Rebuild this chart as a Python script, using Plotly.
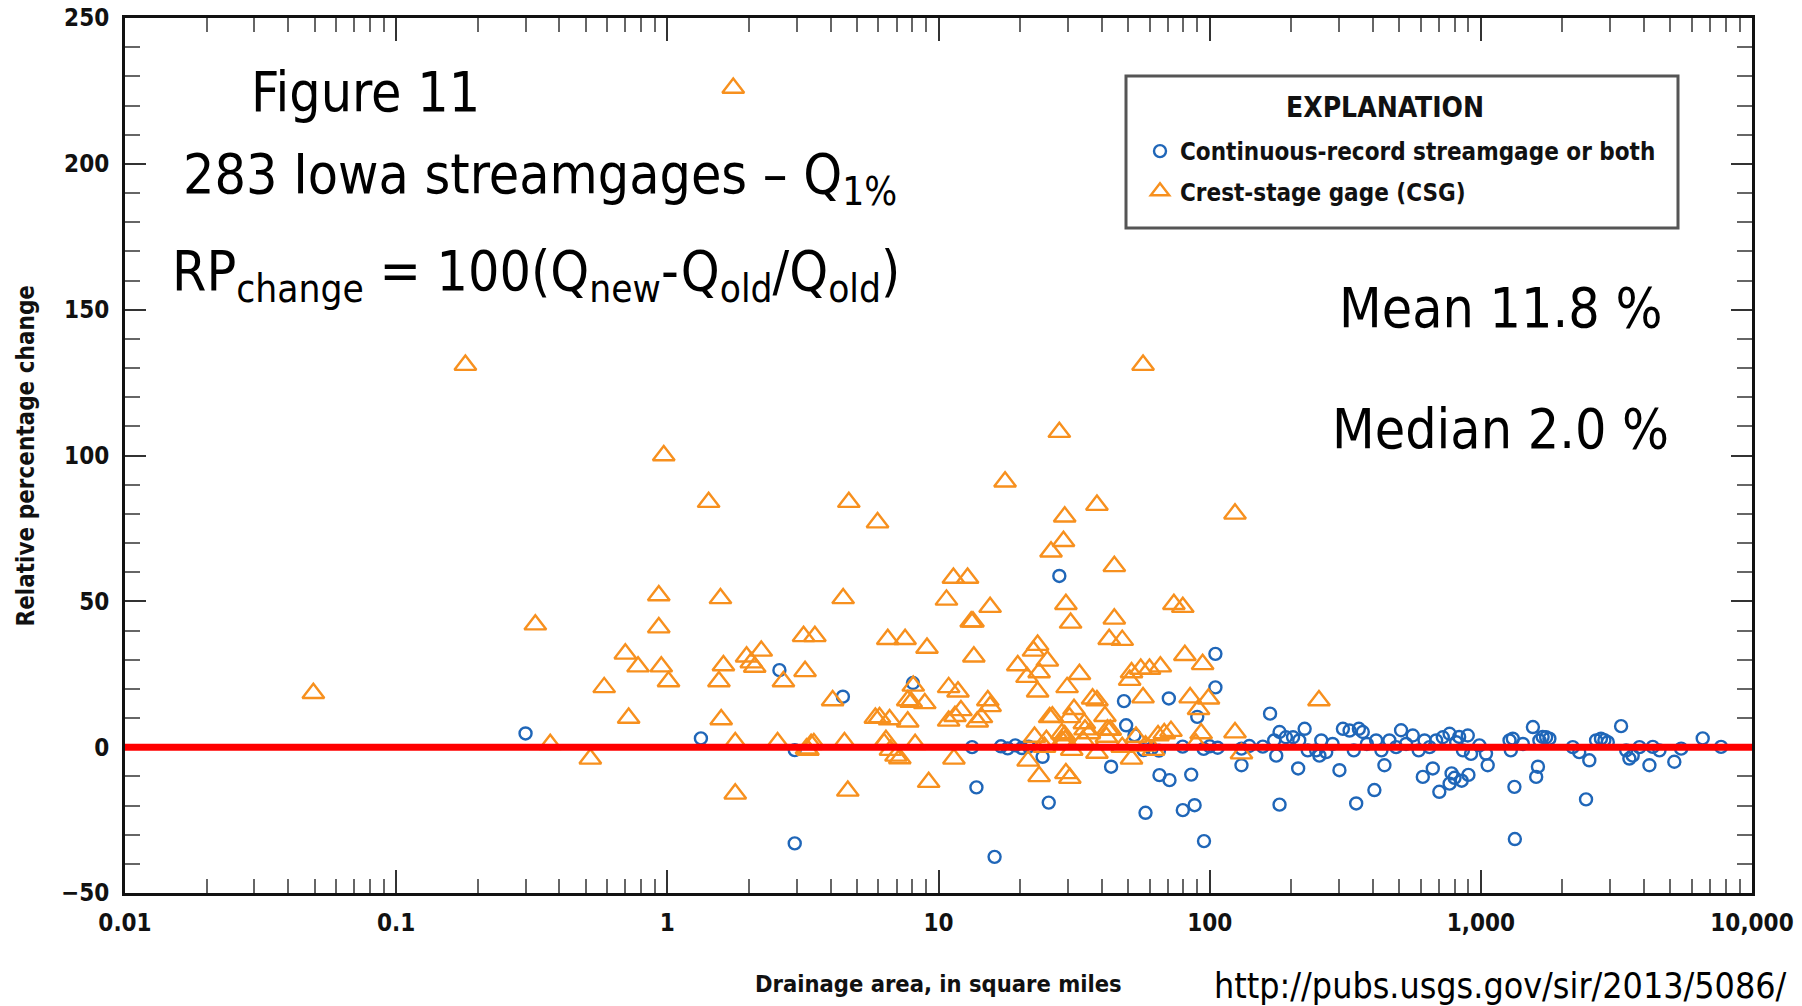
import plotly.graph_objects as go

# ---------------- data ----------------
csg_area = [0.0495, 0.18, 0.326, 0.37, 0.52, 0.585, 0.70, 0.72, 0.78, 0.93, 0.93, 0.95, 0.97, 1.01,
            1.42, 1.55, 1.57, 1.58, 1.61, 1.75, 1.78, 1.78, 1.96, 2.04, 2.1, 2.22, 2.55, 2.68,
            3.18, 3.22, 3.26, 3.3, 3.39, 3.47, 3.5, 4.07, 4.45, 4.5, 4.63, 4.67, 5.85, 5.96,
            6.06, 6.3, 6.4, 6.5, 6.6, 6.65, 6.97, 7.2, 7.53, 7.7, 7.7, 7.93, 8.07, 8.2, 8.9,
            9.07, 9.2, 10.7, 10.9, 10.9, 11.35, 11.4, 11.5, 11.8, 12.1, 12.8, 13.2, 13.4, 13.5,
            13.9, 14.4, 15.2, 15.5, 15.5, 17.6, 19.6, 21.2, 21.4, 22.4, 22.6, 23.2, 23.2, 23.5,
            23.5, 24.6, 25, 25.2, 25.7, 26, 26.3, 27.9, 28.5, 28.6, 28.9, 29.2, 29.2, 29.3, 29.5,
            29.5, 29.8, 30.4, 30.5, 30.7, 31, 31.6, 33.1, 34.1, 34.5, 34.7, 36, 37, 38.4, 38.4,
            38.4, 41.1, 41.6, 42, 42.6, 43, 44.5, 44.5, 47.6, 47.6, 50.7, 51.5, 51.5, 53.5, 55.7,
            56.8, 56.8, 58, 60, 62, 64.5, 65.8, 68, 72, 73.8, 79.6, 81, 84.7, 89, 91, 93, 94.2,
            99, 124, 124, 131, 253]
csg_change = [18.5, 131, 42, 1, -4, 20.5, 32, 10, 27.6, 52, 41, 27.6, 100, 22.5,
              84, 22.5, 51, 9.5, 28, 226, 1.6, -16, 31, 29, 27.5, 33, 1.6, 22.5,
              38, 26, -0.5, -1, 1, 1.3, 38, 16, 51, 1.6, -15, 84, 10, 77,
              10.2, 1.3, 2.4, 37, 9.5, -1, -3, -3.9, 37, 8.7, 16, 15.5, 21, 1, 15,
              34, -12, 50.5, 20.5, 9, 58, -4, 10.6, 19, 12.6, 58, 43, 43, 31,
              8.7, 10.2, 16, 48, 14, 91, 28, 24, -4.7, 33, 3.5, 35, 19, 25.6,
              -10, 0, 2.4, 29.6, 10.2, 67, 10.4, 108, 4.7, 2, 70.6, 79, 4, 2.4, 49,
              -9, 20.5, 10.2, -10.6, 42.6, -1, 13, 25, 2.4, 8.1, 6, 4.7, 16.6, 83, 16,
              -2, 10.6, 3.5, 6, 37, 5.9, 62, 44, 36.7, 0, 23, 25.6, -4, 3.5, 26.8,
              131, 17, 0.5, 26.8, -1, 4, 27.6, 4.7, 5.5, 49, 48, 31.5, 17, 1.2, 13, 4.7, 28.4,
              16.6, 80, 5, -2.2, 16]

crs_area = [0.30, 1.33, 2.59, 2.95, 2.95, 4.44, 8.05, 13.3, 13.8, 16.1, 17, 18, 19.2, 20.3, 21.5,
            24.2, 25.5, 27.9, 43.3, 48.3, 49.2, 52.8, 57, 58, 61, 65, 65.3, 70.7, 71.1, 79.5,
            79.6, 85.5, 88, 90, 95, 95.3, 100, 105, 105, 107, 131, 131,
            140, 157, 167, 173, 176, 181, 181, 191, 203, 212, 214, 224, 230, 247, 254, 258,
            269, 284, 301, 310, 328, 340, 347, 355, 367, 380, 405, 411, 430, 441, 460, 487,
            508, 530, 561, 590, 611, 620, 647, 665, 684, 703, 724, 767, 767, 780, 800, 811,
            832, 850, 859, 895, 900, 920, 988, 1045, 1060, 1276, 1290, 1312, 1330, 1335,
            1429, 1556, 1600, 1624, 1644, 1690, 1741, 1790, 2183, 2306, 2443, 2512, 2661,
            2773, 2855, 2939, 3290, 3436, 3530, 3631, 3846, 4185, 4305, 4558, 5170, 5480,
            6580, 7690]
crs_change = [4.7, 3, 26.4, -1, -33, 17.3, 22, 0, -13.8, -37.6, 0.3, -0.4, 0.6, -0.3, 0.2,
              -3.3, -19, 58.7, -6.7, 15.8, 7.5, 4.1, -1, -22.5, -0.5, -1.2, -9.6, 16.7, -11.3, 0.2,
              -21.6, -9.4, -19.9, 10.4, -0.6, -32.2, 0.3, 20.5, 32, -0.2, -6.2, -0.5,
              0.4, 0.2, 11.5, 2.3, -2.9, 5.2, -19.7, 3.4, 3.4, -7.3, 2.3, 6.3, -1.1, -1.1, -2.9, 2.3,
              -1.7, 1.1, -7.9, 6.3, 5.7, -1.1, -19.3, 6.3, 5.2, 1.1, -14.7, 2.3, -1.1, -6.2, 2.3, 0,
              5.8, 1.1, 4.0, -1.1, -10.2, 2.3, 0, -7.3, 2.3, -15.3, 3.4, 4.6, -12.5, -9, -10.5, 1.7,
              3.5, -11.5, -1.1, 4.0, -9.5, -2.3, 0.6, -2.2, -6.2, 2.3, -1.1, 2.9, -13.6, -31.5,
              1.1, 6.9, -10.2, -6.7, 2.3, 3.5, 3.4, 2.9, 0, -1.7, -17.9, -4.5, 2.3,
              2.9, 2.4, 1.7, 7.2, -1.1, -3.9, -2.9, 0, -6.2, 0.1, -1.1, -5, -0.5,
              3, 0.1]

x_tickvals = [0.01, 0.1, 1, 10, 100, 1000, 10000]
x_ticktext = ["0.01", "0.1", "1", "10", "100", "1,000", "10,000"]
y_tickvals = [-50, 0, 50, 100, 150, 200, 250]

# ---------------- layout helpers (pixel -> paper) ----------------
W, H = 1802, 1006
L, R, T, B = 125, 1752, 18, 893


def px(x):
    return (x - L) / (R - L)


def py(y):
    return (B - y) / (B - T)


NARROW = "Liberation Sans Narrow, Arial Narrow, DejaVu Sans Condensed, sans-serif"
BLUE = "#1f66b8"
ORANGE = "#f7901e"

fig = go.Figure()
fig.add_trace(go.Scatter(
    x=crs_area, y=crs_change, mode="markers",
    name="Continuous-record streamgage or both", legendgroup="crs",
    marker=dict(symbol="circle-open", size=12, color=BLUE, line=dict(width=2.4, color=BLUE)),
))
fig.add_trace(go.Scatter(
    x=csg_area, y=csg_change, mode="markers",
    name="Crest-stage gage (CSG)", legendgroup="csg",
    marker=dict(symbol="triangle-up-open", size=19, color=ORANGE, line=dict(width=2.4, color=ORANGE)),
))

fig.add_hline(y=0, line=dict(color="#ff0000", width=7), layer="above")

minor_x = [k * 10 ** d for d in range(-2, 4) for k in range(2, 10)]

fig.update_xaxes(
    type="log", range=[-2, 4], automargin=False,
    tickvals=x_tickvals, ticktext=x_ticktext,
    ticks="inside", ticklen=23, tickwidth=2, tickcolor="#333",
    minor=dict(tickmode="array", tickvals=minor_x, ticks="inside", ticklen=14,
               tickwidth=2, tickcolor="#666", showgrid=False),
    showline=True, linewidth=3, linecolor="#111", mirror="allticks",
    showgrid=False, zeroline=False,
    tickfont=dict(family=NARROW, size=24, color="#111", weight="bold"),
    ticklabelstandoff=6,
)
fig.update_yaxes(
    range=[-50, 250], tickvals=y_tickvals, automargin=False,
    ticks="inside", ticklen=21, tickwidth=2, tickcolor="#333",
    minor=dict(dtick=10, ticks="inside", ticklen=15, tickwidth=2, tickcolor="#666", showgrid=False),
    showline=True, linewidth=3, linecolor="#111", mirror="allticks",
    showgrid=False, zeroline=False,
    tickfont=dict(family=NARROW, size=24, color="#111", weight="bold"),
    ticklabelstandoff=8,
)

big = dict(family=NARROW, size=55, color="#000")
annotations = [
    dict(text="Figure 11", x=px(365), y=py(92), xanchor="center", yanchor="middle", font=big),
    dict(text="283 Iowa streamgages \u2013 Q<sub>1%</sub>", x=px(181), y=py(178),
         xanchor="left", yanchor="middle", font=big),
    dict(text="RP<sub>change</sub> = 100(Q<sub>new</sub>-Q<sub>old</sub>/Q<sub>old</sub>)",
         x=px(170), y=py(275), xanchor="left", yanchor="middle", font=big),
    dict(text="Mean 11.8 %", x=px(1500), y=py(308), xanchor="center", yanchor="middle", font=big),
    dict(text="Median 2.0 %", x=px(1500), y=py(429), xanchor="center", yanchor="middle", font=big),
    dict(text="Drainage area, in square miles", x=0.5, y=py(984), xanchor="center", yanchor="middle",
         font=dict(family=NARROW, size=23.5, color="#111", weight="bold")),
    dict(text="Relative percentage change", x=px(25), y=0.5, xanchor="center", yanchor="middle",
         textangle=-90, font=dict(family=NARROW, size=24, color="#111", weight="bold")),
    dict(text="http://pubs.usgs.gov/sir/2013/5086/", x=px(1212), y=py(963), xanchor="left",
         yanchor="top", font=dict(family=NARROW, size=35.5, color="#000")),
    dict(text="<b>EXPLANATION</b>", x=px(1385), y=py(107), xanchor="center", yanchor="middle",
         font=dict(family=NARROW, size=28, color="#111")),
]
for a in annotations:
    a.update(xref="paper", yref="paper", showarrow=False)

fig.add_shape(type="rect", xref="paper", yref="paper",
              x0=px(1126), x1=px(1678), y0=py(228), y1=py(76),
              line=dict(color="#555", width=3), fillcolor="white", layer="below")

fig.update_layout(
    width=W, height=H,
    margin=dict(l=L, r=W - R, t=T, b=H - B, pad=0, autoexpand=False),
    paper_bgcolor="white", plot_bgcolor="white",
    annotations=annotations,
    showlegend=True,
    legend=dict(
        x=px(1140), y=py(129), xanchor="left", yanchor="top",
        bgcolor="rgba(0,0,0,0)", borderwidth=0,
        font=dict(family=NARROW, size=24, color="#111", weight="bold"),
        tracegroupgap=6,
    ),
)

fig.write_html("out.html", config={"displayModeBar": False},
               post_script="document.body.style.margin='0';")
